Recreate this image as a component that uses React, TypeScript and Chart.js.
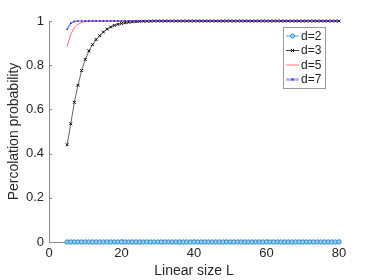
import React, { useEffect, useRef } from "react";
import { Chart, registerables } from "chart.js";

Chart.register(...registerables);

const L2: number[] = Array.from({ length: 76 }, (_, i) => 5 + i);
const d2Values: number[] = L2.map(() => 0);
const d3Values: number[] = [
  0.44, 0.535, 0.632, 0.709, 0.776, 0.826, 0.865, 0.893, 0.916, 0.934, 0.95, 0.963, 0.973, 0.98, 0.985, 0.989,
  0.992, 0.994, 0.996, 0.997, 0.998, 0.999, 0.999, 0.999, 1, 1, 1, 1, 1, 1, 1, 1, 1, 1, 1, 1, 1, 1, 1, 1, 1, 1, 1,
  1, 1, 1, 1, 1, 1, 1, 1, 1, 1, 1, 1, 1, 1, 1, 1, 1, 1, 1, 1, 1, 1, 1, 1, 1, 1, 1, 1, 1, 1, 1, 1, 1,
];
const d5Values: number[] = [
  0.885, 0.94, 0.97, 0.985, 0.993, 0.997, 0.999, 1, 1, 1, 1, 1, 1, 1, 1, 1, 1, 1, 1, 1, 1, 1, 1, 1, 1, 1, 1, 1, 1,
  1, 1, 1, 1, 1, 1, 1, 1, 1, 1, 1, 1, 1, 1, 1, 1, 1, 1, 1, 1, 1, 1, 1, 1, 1, 1, 1, 1, 1, 1, 1, 1, 1, 1, 1, 1, 1,
  1, 1, 1, 1, 1, 1, 1, 1, 1, 1,
];
const d7Values: number[] = [
  0.962, 0.99, 0.998, 1, 1, 1, 1, 1, 1, 1, 1, 1, 1, 1, 1, 1, 1, 1, 1, 1, 1, 1, 1, 1, 1, 1, 1, 1, 1, 1, 1, 1, 1, 1,
  1, 1, 1, 1, 1, 1, 1, 1, 1, 1, 1, 1, 1, 1, 1, 1, 1, 1, 1, 1, 1, 1, 1, 1, 1, 1, 1, 1, 1, 1, 1, 1, 1, 1, 1, 1, 1,
  1, 1, 1, 1, 1,
];
const seriesLabels: string[] = ["d=2", "d=3", "d=5", "d=7"];
const xTicks: number[] = [0, 20, 40, 60, 80];
const yTicks: number[] = [0, 0.2, 0.4, 0.6, 0.8, 1];

const FONT = "'Liberation Sans', Arial, Helvetica, sans-serif";
const AXIS = "#8a8a8a";

const toPts = (vals: number[]) => vals.map((y, i) => ({ x: L2[i], y }));

const axesPlugin = {
  id: "matlabAxes",
  beforeDatasetsDraw(chart: any) {
    const { ctx, chartArea } = chart;
    const xs = chart.scales.x;
    const ys = chart.scales.y;
    ctx.save();
    ctx.strokeStyle = AXIS;
    ctx.lineWidth = 1;
    ctx.beginPath();
    ctx.moveTo(chartArea.left + 0.5, chartArea.top);
    ctx.lineTo(chartArea.left + 0.5, chartArea.bottom + 0.5);
    ctx.lineTo(chartArea.right, chartArea.bottom + 0.5);
    for (const t of xTicks) {
      const px = Math.round(xs.getPixelForValue(t)) + 0.5;
      ctx.moveTo(px, chartArea.bottom);
      ctx.lineTo(px, chartArea.bottom - 3);
    }
    for (const t of yTicks) {
      const py = Math.round(ys.getPixelForValue(t)) + 0.5;
      ctx.moveTo(chartArea.left, py);
      ctx.lineTo(chartArea.left + 3, py);
    }
    ctx.stroke();
    ctx.restore();
  },
};

const legendPlugin = {
  id: "innerLegend",
  afterDraw(chart: any) {
    const { ctx, chartArea } = chart;
    const boxR = chartArea.right - 14;
    const boxL = boxR - 42;
    const boxT = chartArea.top + 6;
    const boxB = boxT + 61;
    ctx.save();
    ctx.fillStyle = "#fff";
    ctx.fillRect(boxL, boxT, boxR - boxL, boxB - boxT);
    ctx.strokeStyle = "#9a9a9a";
    ctx.lineWidth = 1;
    ctx.strokeRect(boxL + 0.5, boxT + 0.5, boxR - boxL, boxB - boxT);
    ctx.font = `12px ${FONT}`;
    ctx.textBaseline = "middle";
    const ds = chart.data.datasets;
    for (let i = 0; i < ds.length; i++) {
      const y = boxT + 9 + i * 14.5;
      const x0 = boxL + 3;
      const x1 = boxL + 16;
      ctx.strokeStyle = ds[i].legendColor;
      ctx.lineWidth = ds[i].legendWidth;
      ctx.beginPath();
      ctx.moveTo(x0, y);
      ctx.lineTo(x1, y);
      ctx.stroke();
      const cx = (x0 + x1) / 2;
      if (i === 0) {
        ctx.strokeStyle = "#2a8fd0";
        ctx.lineWidth = 1;
        ctx.fillStyle = "#a9d3ee";
        ctx.beginPath();
        ctx.arc(cx, y, 2, 0, Math.PI * 2);
        ctx.fill();
        ctx.stroke();
      } else if (i === 1) {
        ctx.strokeStyle = "#000";
        ctx.lineWidth = 1;
        ctx.beginPath();
        ctx.moveTo(cx - 1.5, y - 1.5);
        ctx.lineTo(cx + 1.5, y + 1.5);
        ctx.moveTo(cx + 1.5, y - 1.5);
        ctx.lineTo(cx - 1.5, y + 1.5);
        ctx.stroke();
      } else if (i === 3) {
        ctx.fillStyle = "#2020d0";
        ctx.fillRect(cx - 1, y - 1, 2, 2);
      }
      ctx.fillStyle = "#222";
      ctx.fillText(ds[i].label, x1 + 2, y + 0.5);
    }
    ctx.restore();
  },
};

export default function App() {
  const ref = useRef<HTMLCanvasElement | null>(null);
  useEffect(() => {
    document.body.style.margin = "0";
    const chart = new Chart(ref.current as HTMLCanvasElement, {
      type: "line",
      data: {
        datasets: [
          {
            label: seriesLabels[0],
            order: 4,
            clip: false,
            data: toPts(d2Values),
            borderColor: "rgba(60,150,215,0.45)",
            borderWidth: 2,
            pointStyle: "circle",
            pointRadius: 2.2,
            pointBorderWidth: 1,
            pointBorderColor: "#2a8cd0",
            pointBackgroundColor: "#9ccdec",
            legendColor: "#a9d3ee",
            legendWidth: 2,
          } as any,
          {
            label: seriesLabels[1],
            order: 3,
            clip: false,
            data: toPts(d3Values),
            borderColor: "rgba(40,40,40,0.9)",
            borderWidth: 0.8,
            pointStyle: "crossRot",
            pointRadius: 2,
            pointBorderWidth: 1,
            pointBorderColor: "#000",
            legendColor: "#444",
            legendWidth: 1,
          } as any,
          {
            label: seriesLabels[2],
            order: 2,
            clip: false,
            data: toPts(d5Values),
            borderColor: "rgba(255,60,60,0.75)",
            borderWidth: 1,
            pointRadius: 0,
            legendColor: "rgba(255,90,90,0.8)",
            legendWidth: 1,
          } as any,
          {
            label: seriesLabels[3],
            order: 1,
            clip: false,
            data: toPts(d7Values),
            borderColor: "rgba(60,60,255,0.75)",
            borderWidth: 1.2,
            pointStyle: "rect",
            pointRadius: 1,
            pointBorderWidth: 0,
            pointBackgroundColor: "#1010a0",
            legendColor: "rgba(120,120,255,0.6)",
            legendWidth: 2.5,
          } as any,
        ],
      },
      options: {
        animation: false,
        responsive: false,
        parsing: false as any,
        layout: { padding: { top: 21, right: 35, left: 0, bottom: 0 } },
        plugins: { legend: { display: false }, tooltip: { enabled: false } },
        scales: {
          x: {
            type: "linear",
            min: 0,
            max: 80,
            afterBuildTicks: (s: any) => {
              s.ticks = xTicks.map((v) => ({ value: v }));
            },
            afterFit: (s: any) => {
              s.height = 38;
            },
            grid: { display: false, drawTicks: false },
            border: { display: false },
            ticks: { color: "#262626", font: { family: FONT, size: 13 }, padding: 4, maxRotation: 0 },
            title: {
              display: true,
              text: "Linear size L",
              color: "#262626",
              font: { family: FONT, size: 14 },
              padding: { top: 0, bottom: 0 },
            },
          },
          y: {
            type: "linear",
            min: 0,
            max: 1,
            afterBuildTicks: (s: any) => {
              s.ticks = yTicks.map((v) => ({ value: v }));
            },
            afterFit: (s: any) => {
              s.width = 49;
            },
            grid: { display: false, drawTicks: false },
            border: { display: false },
            ticks: {
              color: "#262626",
              font: { family: FONT, size: 13 },
              padding: 5,
              callback: (v: any) => String(Math.round(Number(v) * 10) / 10),
            },
            title: {
              display: true,
              text: "Percolation probability",
              color: "#262626",
              font: { family: FONT, size: 14 },
              padding: { top: 6, bottom: 2 },
            },
          },
        },
      },
      plugins: [axesPlugin, legendPlugin],
    });
    return () => chart.destroy();
  }, []);
  return (
    <div style={{ position: "fixed", left: 0, top: 0, width: 374, height: 280, background: "#fff" }}>
      <canvas ref={ref} width={374} height={280} style={{ width: 374, height: 280 }} />
    </div>
  );
}
